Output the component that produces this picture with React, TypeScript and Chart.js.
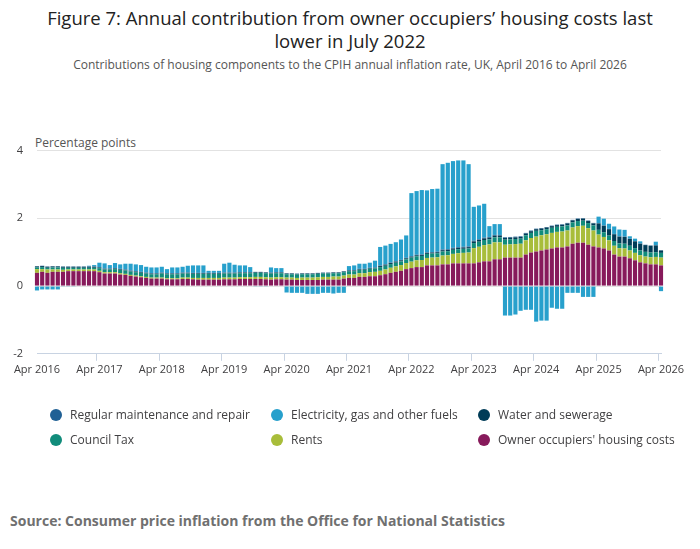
import React, { useEffect, useRef } from "react";
import { Chart, registerables } from "chart.js";
Chart.register(...registerables);

const MONTHS = ["Jan","Feb","Mar","Apr","May","Jun","Jul","Aug","Sep","Oct","Nov","Dec"];
const labels: string[] = [];
for (let i = 0; i < 121; i++) {
  const m = (3 + i) % 12;
  const y = 2016 + Math.floor((3 + i) / 12);
  labels.push(`${MONTHS[m]} ${y}`);
}

const ooh = [
  .39,.42,.39,.42,.42,.42,.44,.44,.44,.44,.44,.44,
  .41,.37,.37,.37,.34,.33,.30,.28,.26,.24,.22,.22,
  .22,.20,.20,.20,.21,.21,.20,.19,.19,.19,.19,.19,
  .20,.20,.20,.21,.21,.21,.21,.21,.20,.19,.20,.20,
  .19,.19,.18,.18,.18,.18,.18,.19,.19,.19,.19,.22,
  .24,.24,.27,.27,.29,.29,.32,.35,.39,.42,.45,.50,
  .53,.56,.56,.61,.61,.61,.64,.64,.67,.67,.67,.67,
  .67,.70,.73,.73,.79,.79,.84,.84,.84,.84,.93,.99,
  1.02,1.05,1.08,1.11,1.14,1.14,1.17,1.25,1.28,1.28,1.22,1.17,
  1.14,1.11,1.05,.93,.87,.87,.82,.76,.70,.67,.64,.64,
  .61,
];
const rents = [
  .11,.08,.10,.07,.07,.06,.05,.05,.05,.05,.05,.05,
  .04,.04,.04,.04,.04,.03,.03,.03,.03,.03,.03,.03,
  .03,.03,.03,.03,.04,.04,.04,.05,.05,.05,.05,.05,
  .05,.05,.05,.05,.05,.05,.06,.06,.06,.06,.06,.06,
  .06,.06,.06,.07,.07,.07,.08,.08,.08,.09,.09,.09,
  .10,.10,.11,.11,.12,.13,.13,.14,.15,.16,.17,.18,
  .19,.20,.21,.22,.23,.24,.26,.27,.28,.30,.31,.32,
  .45,.46,.48,.50,.50,.50,.38,.39,.40,.41,.42,.43,
  .44,.45,.45,.46,.46,.47,.47,.48,.49,.50,.49,.47,
  .38,.34,.30,.26,.25,.24,.23,.22,.21,.20,.21,.22,
  .23,
];
const council = [
  .05,.06,.05,.06,.06,.06,.05,.05,.05,.05,.05,.05,
  .08,.08,.08,.09,.10,.10,.10,.10,.10,.10,.10,.10,
  .12,.12,.12,.12,.12,.12,.12,.12,.12,.12,.12,.12,
  .12,.12,.12,.12,.12,.12,.12,.12,.12,.12,.12,.12,
  .10,.10,.10,.10,.10,.10,.10,.10,.10,.10,.10,.10,
  .10,.10,.10,.10,.10,.10,.11,.11,.11,.11,.11,.11,
  .12,.12,.12,.12,.12,.12,.12,.12,.12,.12,.12,.12,
  .15,.15,.15,.15,.15,.15,.15,.15,.15,.15,.15,.15,
  .17,.15,.15,.15,.15,.15,.15,.15,.15,.15,.15,.15,
  .14,.14,.14,.14,.14,.14,.14,.14,.14,.14,.14,.14,
  .14,
];
const water = [
  .03,.03,.03,.03,.03,.03,.03,.03,.03,.03,.03,.03,
  .02,.02,.02,.02,.02,.02,.02,.02,.02,.02,.02,.02,
  .02,.02,.02,.02,.02,.02,.02,.02,.02,.02,.02,.02,
  .02,.02,.02,.02,.02,.02,.02,.02,.02,.02,.02,.02,
  .02,.02,.02,.02,.02,.02,.02,.02,.02,.02,.02,.02,
  .02,.02,.02,.02,.02,.02,.03,.03,.03,.03,.03,.03,
  .03,.03,.03,.03,.03,.03,.04,.04,.04,.04,.04,.04,
  .05,.05,.05,.05,.05,.05,.05,.05,.05,.05,.05,.05,
  .05,.05,.05,.05,.05,.05,.06,.06,.06,.06,.06,.06,
  .19,.19,.19,.20,.20,.20,.20,.20,.20,.20,.20,.20,
  .07,
];
const maintenance = [
  .01,.01,.01,.01,.01,.01,.01,.01,.01,.01,.01,.01,
  .01,.01,.01,.01,.01,.01,.01,.01,.01,.01,.01,.01,
  .01,.01,.01,.01,.01,.01,.01,.01,.01,.01,.01,.01,
  .01,.01,.01,.01,.01,.01,.01,.01,.01,.01,.01,.01,
  .01,.01,.01,.01,.01,.01,.01,.01,.01,.01,.01,.01,
  .01,.01,.01,.01,.01,.01,.015,.015,.015,.015,.015,.015,
  .015,.015,.015,.015,.015,.015,.02,.02,.02,.02,.02,.02,
  .02,.02,.02,.02,.02,.02,.02,.02,.02,.02,.02,.02,
  .015,.015,.015,.015,.015,.015,.015,.015,.015,.015,.015,.015,
  .01,.01,.01,.01,.01,.01,.01,.01,.01,.01,.01,.01,
  .01,
];
const electricity = [
  -.13,-.10,-.10,-.10,-.10,-.02,-.02,-.02,0,0,.02,.04,
  .13,.15,.10,.15,.13,.17,.20,.20,.20,.17,.17,.17,
  .17,.12,.17,.17,.17,.20,.22,.22,.22,.06,.06,.06,
  .26,.29,.23,.20,.20,.15,-.02,-.02,-.02,.15,.12,.12,
  -.19,-.20,-.20,-.20,-.23,-.23,-.23,-.20,-.20,-.22,-.20,-.20,
  .12,.14,.15,.15,.15,.20,.55,.55,.55,.56,.60,.66,
  1.86,1.88,1.90,1.83,1.86,1.86,2.52,2.55,2.56,2.56,2.55,2.43,
  1.00,1.00,1.00,.32,.32,.32,-.87,-.87,-.84,-.73,-.70,-.70,
  -1.05,-1.02,-1.02,-.64,-.67,-.67,-.20,-.20,-.20,-.32,-.32,-.32,
  .19,.20,.15,.22,.20,.20,.07,.07,.06,0,0,.10,
  -.15,
];
const yTicks = [-2, 0, 2, 4];

const C = {
  maint: "#206095",
  elec: "#27a0cc",
  water: "#003c57",
  council: "#118c7b",
  rents: "#a8bd3a",
  ooh: "#871a5b",
};

const legendItems = [
  ["Regular maintenance and repair", C.maint],
  ["Electricity, gas and other fuels", C.elec],
  ["Water and sewerage", C.water],
  ["Council Tax", C.council],
  ["Rents", C.rents],
  ["Owner occupiers' housing costs", C.ooh],
];

export default function App() {
  const ref = useRef<HTMLCanvasElement>(null);
  useEffect(() => {
    const ds = (label: string, data: number[], color: string) => ({
      label, data, backgroundColor: color, borderWidth: 0,
      categoryPercentage: 1, barPercentage: 0.8, clip: false as any,
    });
    const chart = new Chart(ref.current!, {
      type: "bar",
      data: {
        labels,
        datasets: [
          ds("Owner occupiers' housing costs", ooh, C.ooh),
          ds("Rents", rents, C.rents),
          ds("Council Tax", council, C.council),
          ds("Water and sewerage", water, C.water),
          ds("Regular maintenance and repair", maintenance, C.maint),
          ds("Electricity, gas and other fuels", electricity, C.elec),
        ],
      },
      options: {
        animation: false,
        responsive: false,
        maintainAspectRatio: false,
        layout: { padding: { top: 5, right: 29, bottom: 0, left: 0 } },
        plugins: { legend: { display: false }, tooltip: { enabled: false } },
        scales: {
          x: {
            stacked: true,
            offset: false,
            border: { color: "#c8d3e2" },
            grid: {
              drawOnChartArea: false,
              tickLength: 7,
              color: (c: any) => (c.index % 12 === 0 ? "#c8d3e2" : "rgba(0,0,0,0)"),
            },
            ticks: {
              autoSkip: false,
              maxRotation: 0,
              color: "#414042",
              font: { family: "Open Sans", size: 11 },
              padding: 2,
              callback: (_v: any, i: number) => (i % 12 === 0 ? labels[i] : ""),
            },
          },
          y: {
            stacked: true,
            min: -2,
            max: 4,
            afterFit: (s: any) => { s.width = 37; },
            afterBuildTicks: (s: any) => { s.ticks = yTicks.map((v) => ({ value: v })); },
            border: { display: false },
            grid: { color: "#e2e2e2", tickLength: 0 },
            ticks: { color: "#414042", font: { family: "Open Sans", size: 11 }, padding: 14 },
          },
        },
      },
    });
    return () => chart.destroy();
  }, []);

  return (
    <div style={{ position: "fixed", left: 0, top: 0, width: 700, height: 549, background: "#fff", fontFamily: "'Open Sans', sans-serif", color: "#222" }}>
      <div style={{ position: "absolute", top: 6, left: 40, width: 620, textAlign: "center", fontSize: 18.5, lineHeight: "23px", color: "#222" }}>
        Figure 7: Annual contribution from owner occupiers’ housing costs last lower in July 2022
      </div>
      <div style={{ position: "absolute", top: 56, left: 0, width: 700, textAlign: "center", fontSize: 12, color: "#555" }}>
        Contributions of housing components to the CPIH annual inflation rate, UK, April 2016 to April 2026
      </div>
      <div style={{ position: "absolute", top: 134, left: 35, fontSize: 12, color: "#555" }}>Percentage points</div>
      <canvas ref={ref} width={690} height={248} style={{ position: "absolute", left: 0, top: 130, width: 690, height: 248 }} />
      <div style={{ position: "absolute", top: 406, left: 50, display: "grid", gridTemplateColumns: "221px 207px 240px", rowGap: 8, fontSize: 12, color: "#414042" }}>
        {legendItems.map(([t, c]) => (
          <div key={t} style={{ display: "flex", alignItems: "center", height: 17, whiteSpace: "nowrap" }}>
            <span style={{ width: 12, height: 12, borderRadius: 6, background: c, display: "inline-block", marginRight: 8 }} />
            {t}
          </div>
        ))}
      </div>
      <div style={{ position: "absolute", top: 511, left: 10, fontSize: 14, fontWeight: 700, color: "#707070" }}>
        Source: Consumer price inflation from the Office for National Statistics
      </div>
    </div>
  );
}
